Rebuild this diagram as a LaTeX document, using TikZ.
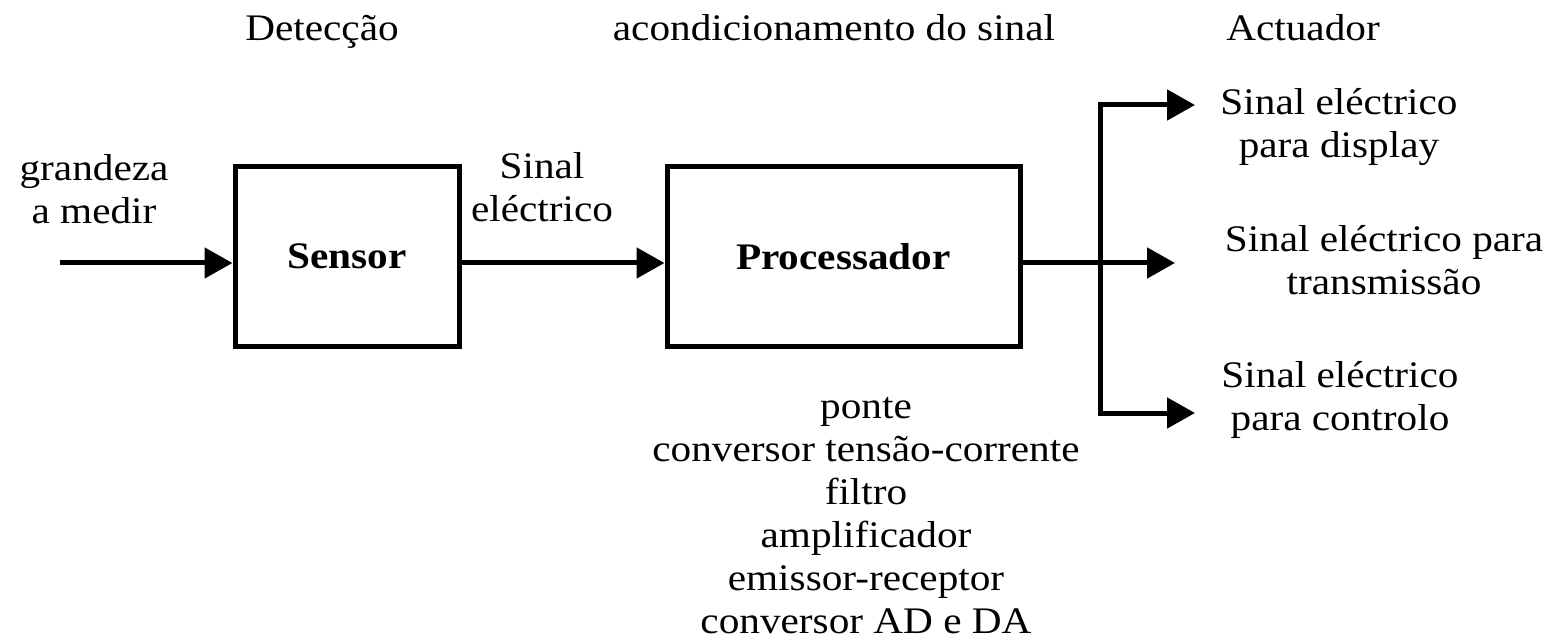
\documentclass[tikz,border=0pt]{standalone}
\usepackage{fontspec}
\setmainfont{Liberation Serif}[FakeStretch=1.1]
\usetikzlibrary{arrows.meta}
\newcommand\diagfont{\fontsize{18.75pt}{21.5pt}\selectfont}
\begin{document}
\begin{tikzpicture}[x=0.5pt,y=-0.5pt,
  wire/.style={line width=2.5pt},
  tip/.tip={Triangle[length=14pt,width=15pt]},
  arr/.style={wire,-tip},
  blockbox/.style={draw,line width=2.5pt,minimum height=89.5pt,inner sep=0pt,font=\diagfont\bfseries},
  lbl/.style={anchor=base,align=center,inner sep=0pt,font=\diagfont}]
\useasboundingbox (0,0) rectangle (1566,641);

% stage headings
\node[lbl] (hdet) at (322,41) {Detecção};
\node[lbl] (hacond) at (834,41) {acondicionamento do sinal};
\node[lbl] (hact) at (1303,41) {Actuador};

% blocks
\node[blockbox,minimum width=112pt] (sensor) at (347,256.5) {Sensor};
\node[blockbox,minimum width=176.5pt] (proc) at (843.5,256.5) {Processador};

% signal labels (placed by the baseline of their last line)
\node[lbl] (qty) at (94,224) {grandeza\\a medir};
\node[lbl] (sig) at (542,222) {Sinal\\eléctrico};
\node[lbl] (outdisp) at (1339,158) {Sinal eléctrico\\para display};
\node[lbl] (outtx) at (1384,295) {Sinal eléctrico para\\transmissão};
\node[lbl] (outctl) at (1340,430) {Sinal eléctrico\\para controlo};
\node[lbl] (ops) at (866,633) {ponte\\conversor tensão-corrente\\filtro\\amplificador\\emissor-receptor\\conversor AD e DA};

% connector end points
\coordinate (src) at (60,263);
\coordinate (jt) at (1100,105);
\coordinate (jb) at (1100,413);
\coordinate (endD) at (1195,105);
\coordinate (endT) at (1175,263);
\coordinate (endC) at (1195,413);

% signal path
\draw[arr] (src) -- (src -| sensor.west);
\draw[arr] (sensor.east |- src) -- (proc.west |- src);
\draw[arr] (proc.east |- src) -- (endT);
\draw[wire,tip-tip] (endD) -- (jt) -- (jb) -- (endC);
\end{tikzpicture}
\end{document}
